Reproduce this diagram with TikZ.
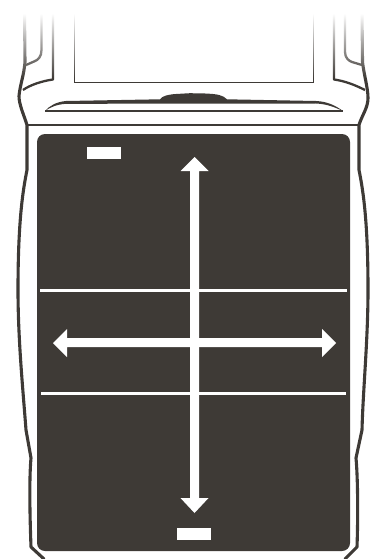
\documentclass[tikz,border=0pt]{standalone}
\usetikzlibrary{fadings}
\definecolor{ink}{HTML}{3E3A36}
\tikzfading[name=fadedown, top color=transparent!0, bottom color=transparent!100]
\tikzset{
  shell/.style={draw=ink, line width=3.1pt, line join=round, line cap=round},
  rib/.style={draw=ink, line width=2.3pt, line join=round},
  thin rule/.style={draw=ink, line width=1.2pt},
  mark box/.style={fill=white, draw=none},
  cross arrow/.style={fill=white, draw=none},
  band/.style={draw=white, line width=2.6pt}
}
\begin{document}
\begin{tikzpicture}[x=1pt,y=-1pt]
\useasboundingbox (0,0) rectangle (381,559);
% outer shell, left
\draw[shell] (24.5,10) -- (25,62) .. controls (24,75) and (20,85) .. (19,96)
  .. controls (19,105) and (24,115) .. (27,125) -- (27,170)
  .. controls (23,190) and (18,220) .. (18,290)
  .. controls (18,340) and (23,390) .. (26,430) -- (31,458)
  .. controls (29,480) and (30,520) .. (31,547) -- (44,559);
% outer shell, right
\draw[shell] (362,10) -- (362.5,62) .. controls (364,75) and (368,88) .. (368,98)
  .. controls (368,108) and (362,115) .. (359,125) -- (359,170)
  .. controls (363,190) and (368,220) .. (368,290)
  .. controls (368,340) and (363,390) .. (362,430) -- (356,458)
  .. controls (358,480) and (358,520) .. (357,547) -- (345,559);
% ribs, left
\draw[rib] (41.5,10) -- (41.5,50) .. controls (41.5,57) and (38,60) .. (34,61.5) -- (26,65);
\draw[rib] (53,10) -- (53,79.5) .. controls (42,81) and (30,85) .. (23,90);
% ribs, right
\draw[rib] (345,10) -- (345,52) .. controls (345,58) and (349,61) .. (352,62) -- (362,65);
\draw[rib] (334,10) -- (334,79.5) .. controls (345,81) and (355,85) .. (365,90);
% screen
\draw[thin rule] (74.5,10) -- (74.5,82.5) -- (313.5,82.5) -- (313.5,10);
% fade of the top part
\fill[white] (0,0) rectangle (381,14);
\fill[white, path fading=fadedown] (0,13.5) rectangle (381,78);
% speaker slot and button
\fill[ink] (45,111) .. controls (50,105.5) and (56,102) .. (66,101) -- (160,99.3)
  .. controls (162,96) and (168,94.5) .. (176,94) -- (190,93.2) -- (205,93.5)
  .. controls (217,94) and (223,95) .. (227,99.3) -- (316,101)
  .. controls (328,101.5) and (336,106) .. (343,111)
  .. controls (336,108) and (328,104) .. (316,103.5) -- (66,103.8)
  .. controls (56,104.5) and (50,107.5) .. (45,111) -- cycle;
\draw[ink, line width=1.7pt] (45,110.7) -- (343,110.7);
% rule over the panel
\draw[ink, line width=1.9pt] (27,125) -- (359,125);
% panel
\fill[ink, rounded corners=8pt] (37,134) rectangle (350,551);
% fold lines
\draw[band] (40,290.5) -- (347,290.5);
\draw[band] (41,393.5) -- (346,393.5);
% labels
\fill[mark box] (87,147) rectangle (121,159);
\fill[mark box] (177,528) rectangle (211,540);
% arrows
\fill[cross arrow] (194.5,157) -- (208.5,171) -- (199,171) -- (199,498) -- (208.5,498)
  -- (194.5,513) -- (180.5,498) -- (190,498) -- (190,171) -- (180.5,171) -- cycle;
\fill[cross arrow] (53,343) -- (67,329) -- (67,338) -- (322,338) -- (322,329)
  -- (336,343) -- (322,357) -- (322,347) -- (67,347) -- (67,357) -- cycle;
\end{tikzpicture}
\end{document}
